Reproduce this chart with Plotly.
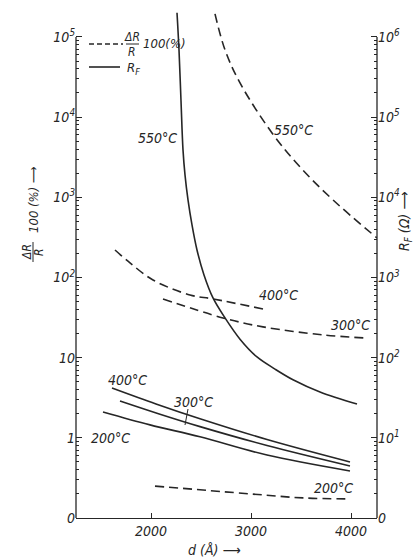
import plotly.graph_objects as go

# ---------------- data ----------------
# R_F (right axis, Ohm), solid lines
d_rf_550 = [2260, 2280, 2300, 2320, 2340, 2370, 2410, 2460, 2530, 2620, 2740, 2890, 3060, 3240, 3420, 3690, 4060]
rf_550 = [2.0e6, 6.9e5, 1.6e5, 3.9e4, 1.9e4, 9.27e3, 4.52e3, 2.2e3, 1075, 555, 313, 170, 102, 72, 53, 37.3, 26.4]
d_rf_400 = [1610, 2050, 2490, 3160, 3990]
rf_400 = [41.9, 26.5, 17.3, 9.53, 5.0]
d_rf_300 = [1690, 2090, 2490, 3160, 3990]
rf_300 = [28.8, 19.7, 13.8, 8.03, 4.46]
d_rf_200 = [1520, 1990, 2490, 3160, 3990]
rf_200 = [21.0, 14.5, 10.3, 6.1, 3.86]

# dR/R*100 (%) (left axis), dashed lines
d_dr_550 = [2640, 2740, 2890, 3210, 3490, 3820, 4260]
dr_550 = [1.94e5, 6.9e4, 2.67e4, 6350, 2390, 927, 311]
d_dr_400 = [1640, 1790, 2020, 2390, 2620, 3120]
dr_400 = [220, 152, 93, 60.5, 54, 40.5]
d_dr_300 = [2120, 2720, 3120, 3720, 4140]
dr_300 = [54, 31.3, 24.2, 19.2, 17.6]
d_dr_200 = [2040, 2990, 3520, 3990]
dr_200 = [0.25, 0.20, 0.178, 0.173]

x_ticks = [2000, 3000, 4000]
left_tickvals = [0.1, 1, 10, 100, 1e3, 1e4, 1e5]
left_ticktext = ["0", "1", "10", "10<sup>2</sup>", "10<sup>3</sup>", "10<sup>4</sup>", "10<sup>5</sup>"]
right_tickvals = [1, 10, 100, 1e3, 1e4, 1e5, 1e6]
right_ticktext = ["0", "10<sup>1</sup>", "10<sup>2</sup>", "10<sup>3</sup>", "10<sup>4</sup>", "10<sup>5</sup>", "10<sup>6</sup>"]

# ---------------- style ----------------
INK = "#262626"
FONT = "Liberation Sans Narrow, DejaVu Sans Condensed, Roboto, sans-serif"
W, H = 416, 560
L, R, T, B = 76, 39, 8, 42
PW, PH = W - L - R, H - T - B
DASH = "9px,5px"


def px(x):
    return (x - L) / PW


def py(y):
    return (H - B - y) / PH


fig = go.Figure()


def add(xs, ys, dashed, yaxis):
    fig.add_trace(go.Scatter(
        x=xs, y=ys, mode="lines", yaxis=yaxis,
        line=dict(color=INK, width=1.6, dash=DASH if dashed else "solid",
                  shape="spline", smoothing=1.0),
        hoverinfo="skip", showlegend=False, cliponaxis=False))


add(d_rf_550, rf_550, False, "y2")
add(d_rf_400, rf_400, False, "y2")
add(d_rf_300, rf_300, False, "y2")
add(d_rf_200, rf_200, False, "y2")
add(d_dr_550, dr_550, True, "y")
add(d_dr_400, dr_400, True, "y")
add(d_dr_300, dr_300, True, "y")
add(d_dr_200, dr_200, True, "y")

tickfont = dict(family=FONT, size=14, color=INK, style="italic")
minor_left = [k * 10 ** e for e in range(-1, 5) for k in range(2, 10)]
minor_right = [k * 10 ** e for e in range(0, 6) for k in range(2, 10)]

fig.update_layout(
    width=W, height=H, margin=dict(l=L, r=R, t=T, b=B),
    paper_bgcolor="white", plot_bgcolor="white",
    xaxis=dict(range=[1250, 4260], showline=True, linecolor=INK, linewidth=1.3,
               ticks="inside", ticklen=5, tickcolor=INK, tickvals=x_ticks,
               showgrid=False, zeroline=False, tickfont=tickfont),
    yaxis=dict(type="log", range=[-1, 5.361], showline=False, showgrid=False, zeroline=False,
               tickvals=left_tickvals, ticktext=left_ticktext, ticks="inside", ticklen=6,
               tickcolor=INK, tickfont=tickfont,
               minor=dict(tickvals=minor_left, ticks="inside", ticklen=3, tickcolor=INK)),
    yaxis2=dict(type="log", range=[0, 6.361], overlaying="y", side="right", showline=False,
                showgrid=False, zeroline=False,
                tickvals=right_tickvals, ticktext=right_ticktext, ticks="inside", ticklen=6,
                tickcolor=INK, tickfont=tickfont,
                minor=dict(tickvals=minor_right, ticks="inside", ticklen=3, tickcolor=INK)),
)

top = 6 / 6.361
shapes = [
    dict(type="line", xref="paper", yref="paper", x0=0, x1=0, y0=0, y1=top,
         line=dict(color=INK, width=1.3)),
    dict(type="line", xref="paper", yref="paper", x0=1, x1=1, y0=0, y1=top,
         line=dict(color=INK, width=1.3)),
    # legend samples
    dict(type="line", xref="paper", yref="paper", x0=px(89), x1=px(123), y0=py(44), y1=py(44),
         line=dict(color=INK, width=1.6, dash="5px,3px")),
    dict(type="line", xref="paper", yref="paper", x0=px(89), x1=px(120), y0=py(67), y1=py(67),
         line=dict(color=INK, width=1.6)),
    # legend fraction bar
    dict(type="line", xref="paper", yref="paper", x0=px(126), x1=px(139), y0=py(44), y1=py(44),
         line=dict(color=INK, width=1)),
    # leader for 300 C label
    dict(type="line", xref="paper", yref="paper", x0=px(188), x1=px(185), y0=py(409), y1=py(425),
         line=dict(color=INK, width=1)),
    # left title fraction bar
    dict(type="line", xref="paper", yref="paper", x0=px(33), x1=px(33), y0=py(262), y1=py(242),
         line=dict(color=INK, width=1)),
]
fig.update_layout(shapes=shapes)

annos = []


def text(t, x, y, size=14, angle=0, xanchor="center"):
    annos.append(dict(text=t, x=px(x), y=py(y), xref="paper", yref="paper", showarrow=False,
                      textangle=angle, xanchor=xanchor, yanchor="middle",
                      font=dict(family=FONT, size=size, color=INK, style="italic")))


curve_labels = [
    ("550°C", 157, 138), ("550°C", 293, 130), ("400°C", 278, 295), ("300°C", 350, 325),
    ("400°C", 127, 380), ("300°C", 193, 402), ("200°C", 110, 438), ("200°C", 333, 488),
]
for t, x, y in curve_labels:
    text(t, x, y)

# legend texts
text("ΔR", 132, 37, size=12)
text("R", 132, 52, size=12)
text("100(%)", 141, 44, size=13, xanchor="left")
text("R<sub>F</sub>", 125, 68, size=13, xanchor="left")

# axis titles
text("d (Å) ⟶", 214, 550, size=14)
text("ΔR", 27, 252, size=12, angle=-90)
text("R", 39, 252, size=12, angle=-90)
text("100 (%) ⟶", 33, 200, size=13, angle=-90)
text("R<sub>F</sub> (Ω) ⟶", 405, 222, size=14, angle=-90)

fig.update_layout(annotations=annos)
fig.write_html("out.html")
